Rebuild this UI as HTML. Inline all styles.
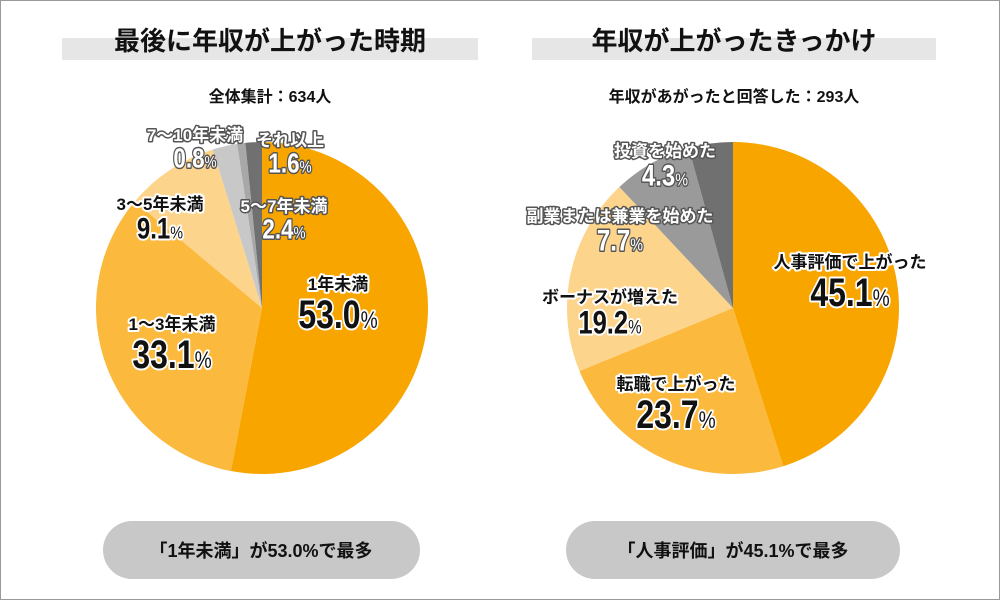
<!DOCTYPE html>
<html><head><meta charset="utf-8"><style>
body{margin:0;background:#fff}
svg{display:block;font-family:"Liberation Sans","Noto Sans CJK JP",sans-serif}
.o{paint-order:stroke;stroke:#fff;stroke-width:4px;stroke-linejoin:round}
.g{paint-order:stroke;stroke:#555;stroke-width:3px;stroke-linejoin:round;fill:#fff}
</style></head><body>
<svg id="c" width="1000" height="600" viewBox="0 0 1000 600">
<rect x="0.5" y="0.5" width="999" height="599" fill="#fff" stroke="#999"/>
<rect x="62" y="38" width="416" height="22" fill="#e6e6e6"/>
<text x="270" y="50" text-anchor="middle" font-size="26" font-weight="bold" fill="#111">最後に年収が上がった時期</text>
<text x="270" y="102" text-anchor="middle" font-size="16" font-weight="bold" fill="#111">全体集計：634人</text>
<rect x="532" y="38" width="404" height="22" fill="#e6e6e6"/>
<text x="734" y="50" text-anchor="middle" font-size="26" font-weight="bold" fill="#111">年収が上がったきっかけ</text>
<text x="734" y="102" text-anchor="middle" font-size="16" font-weight="bold" fill="#111">年収があがったと回答した：293人</text>
<g id="p1"></g><g id="p2"></g><g id="labels"></g>
<rect x="103" y="521" width="317" height="58" rx="29" fill="#c8c8c8"/>
<text x="261" y="557" text-anchor="middle" font-size="18" font-weight="bold" fill="#111">「1年未満」が53.0%で最多</text>
<rect x="566" y="521" width="334" height="58" rx="29" fill="#c8c8c8"/>
<text x="733" y="557" text-anchor="middle" font-size="18" font-weight="bold" fill="#111">「人事評価」が45.1%で最多</text>
</svg>
<script>
const cats1=["1年未満","1〜3年未満","3〜5年未満","5〜7年未満","7〜10年未満","それ以上"];
const vals1=[53.0,33.1,9.1,2.4,0.8,1.6];
const cols1=["#f8a500","#fbb93e","#fdd48c","#c8c8c8","#a8a8a8","#707070"];
const cats2=["人事評価で上がった","転職で上がった","ボーナスが増えた","副業または兼業を始めた","投資を始めた"];
const vals2=[45.1,23.7,19.2,7.7,4.3];
const cols2=["#f8a500","#fbb93e","#fdd48c","#9a9a9a","#707070"];
const NS="http://www.w3.org/2000/svg";
function pie(g,cats,vals,cols,cx,cy,r,key){
  const tot=vals.reduce((a,b)=>a+b,0);let a=0;
  vals.forEach((v,i)=>{
    const a0=a/tot*2*Math.PI;a+=v;const a1=a/tot*2*Math.PI;
    const x0=cx+r*Math.sin(a0),y0=cy-r*Math.cos(a0),x1=cx+r*Math.sin(a1),y1=cy-r*Math.cos(a1);
    const p=document.createElementNS(NS,"path");
    p.setAttribute("d",`M${cx},${cy}L${x0},${y0}A${r},${r} 0 ${a1-a0>Math.PI?1:0} 1 ${x1},${y1}Z`);
    p.setAttribute("fill",cols[i]);
    
    
    g.appendChild(p);
  });
}
pie(document.getElementById("p1"),cats1,vals1,cols1,262,308,166,"left");
pie(document.getElementById("p2"),cats2,vals2,cols2,733,308,166,"right");
const L=document.getElementById("labels");
function lab(x,y,cat,val,style,anchor,bigSize){
  const t=document.createElementNS(NS,"text");
  t.setAttribute("x",x);t.setAttribute("y",y);t.setAttribute("text-anchor",anchor);
  t.setAttribute("font-size",17);t.setAttribute("font-weight","bold");
  t.setAttribute("class",style);if(style==="o")t.setAttribute("fill","#111");
  t.textContent=cat;
  
  
  L.appendChild(t);
  const n=document.createElementNS(NS,"text");
  n.setAttribute("transform",`translate(${x},${y+bigSize*0.95}) scale(0.8,1)`);
  n.setAttribute("text-anchor",anchor);n.setAttribute("font-weight","bold");
  n.setAttribute("class",style);if(style==="o")n.setAttribute("fill","#111");
  n.setAttribute("font-size",bigSize);
  n.innerHTML=val.toFixed(1)+'<tspan font-size="'+Math.round(bigSize*0.6)+'" font-weight="normal">%</tspan>';
  
  
  L.appendChild(n);
}
lab(338,290,cats1[0],vals1[0],"o","middle",40);
lab(172,330,cats1[1],vals1[1],"o","middle",40);
lab(160,210,cats1[2],vals1[2],"o","middle",30);
lab(284,212,cats1[3],vals1[3],"g","middle",28);
lab(195,141,cats1[4],vals1[4],"g","middle",28);
lab(290,146,cats1[5],vals1[5],"g","middle",28);
lab(850,268,cats2[0],vals2[0],"o","middle",40);
lab(676,390,cats2[1],vals2[1],"o","middle",40);
lab(610,303,cats2[2],vals2[2],"o","middle",32);
lab(620,222,cats2[3],vals2[3],"g","middle",30);
lab(665,157,cats2[4],vals2[4],"g","middle",30);
</script>
</body></html>
